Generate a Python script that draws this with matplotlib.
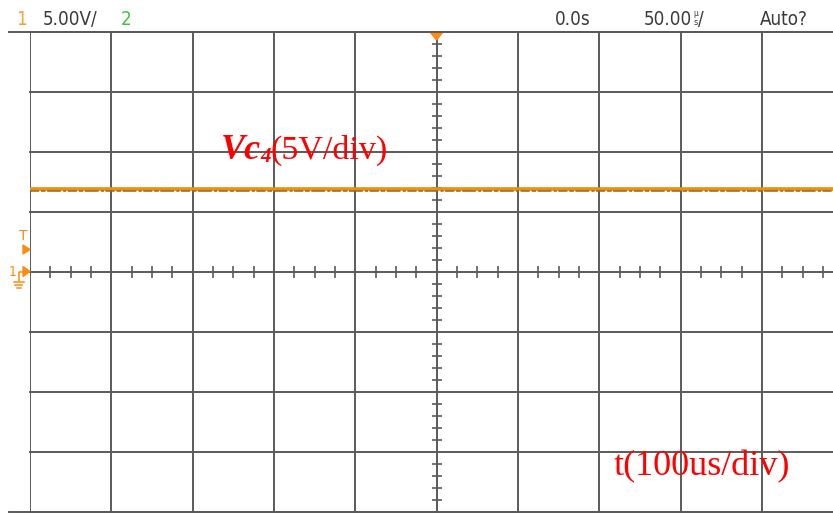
import matplotlib
matplotlib.use("Agg")
import matplotlib.pyplot as plt
from matplotlib.lines import Line2D
from matplotlib.patches import Polygon
from matplotlib import transforms
from matplotlib import font_manager
import numpy as np

# ---- data -------------------------------------------------------------
time_us = [-500.0, 500.0]          # sweep window, microseconds
vc4_volts = [6.9, 6.9]             # capacitor voltage Vc4 (flat DC level)
volts_per_div = 5.0
us_per_div = 100.0

header_channel1 = "1"
header_scale1 = "5.00V/"
header_channel2 = "2"
header_delay = "0.0s"
header_timebase = "50.00"
header_mode = "Auto?"

label_trace_main = "Vc"
label_trace_sub = "4"
label_trace_scale = "(5V/div)"
label_time = "t(100us/div)"

# ---- figure -----------------------------------------------------------
W, H = 833, 513
fig = plt.figure(figsize=(W / 100, H / 100), dpi=100)
fig.patch.set_facecolor("white")


def fx(x):
    return x / W


def fy(y):
    return 1 - y / H


div_px = 81.35
left_px, top_px, bot_px = 30, 32, 512
ax = fig.add_axes([fx(left_px), fy(bot_px), fx(W - left_px), (bot_px - top_px) / H])
ax.set_xlim(-5, -5 + (W - left_px) / div_px)
ax.set_ylim(-4, 4)
ax.axis("off")

grid_c = "#5a5a5a"
grid_lw = 1.4
for xv in range(-5, 5):
    ax.axvline(xv, color=grid_c, lw=grid_lw, zorder=1)
for yv in range(-4, 5):
    ax.axhline(yv, color=grid_c, lw=grid_lw, zorder=1, clip_on=False)

# top and bottom frame lines reach a little past the left edge
for yy in (top_px, bot_px - 0.5):
    fig.add_artist(Line2D([fx(9), 1], [fy(yy), fy(yy)], color=grid_c, lw=grid_lw))

# minor ticks on the centre axes: 4 per division across, 5 per division up
minor_x = [v for v in np.arange(-5, 5.01, 0.25) if abs(v - round(v)) > 1e-6]
ax.plot(minor_x, np.zeros(len(minor_x)), ls="none", marker="|", ms=8, mew=1.2,
        color=grid_c, zorder=2, clip_on=False)
minor_y = [v for v in np.arange(-4, 4.01, 0.2) if abs(v - round(v)) > 1e-6]
ax.plot(np.zeros(len(minor_y)), minor_y, ls="none", marker="_", ms=7, mew=1.2,
        color=grid_c, zorder=2)

# ---- trace ------------------------------------------------------------
xs = np.array(time_us) / us_per_div
ys = np.array(vc4_volts) / volts_per_div
ax.plot(xs, ys, color="#E8900F", lw=2.6, solid_capstyle="butt", zorder=4)
shift = transforms.offset_copy(ax.transData, fig=fig, x=0, y=-1.8, units="dots")
ax.plot(xs, ys, color="#9C6414", lw=1.1, ls=(0, (6, 1.2, 3, 1, 9, 1.5, 2, 1)),
        transform=shift, zorder=5)

# ---- header bar -------------------------------------------------------
available = {f.name for f in font_manager.fontManager.ttflist}
narrow = [n for n in ("Liberation Sans Narrow", "DejaVu Sans") if n in available]
hdr = dict(family=narrow, fontstretch="condensed", va="baseline")
base = 25
hs = 13.5
dark = "#3a3a3a"
fig.text(fx(16), fy(base), header_channel1, color="#F5A33A", fontsize=hs, **hdr)
fig.text(fx(43), fy(base), header_scale1, color=dark, fontsize=hs, **hdr)
fig.text(fx(121), fy(base), header_channel2, color="#3CC43C", fontsize=hs, **hdr)
fig.text(fx(555), fy(base), header_delay, color=dark, fontsize=hs, **hdr)
tb = fig.text(fx(644), fy(base), header_timebase, color=dark, fontsize=hs, **hdr)
# stacked unit glyph after the timebase value
mu = fig.text(0, 0, "µ", color=dark, fontsize=6, **hdr)
fig.canvas.draw()
r = fig.canvas.get_renderer()
tb_right = tb.get_window_extent(r).x1
mu.set_position(((tb_right + 1) / W, fy(base - 9)))
fig.text((tb_right + 1.5) / W, fy(base), "s", color=dark, fontsize=6.5, **hdr)
fig.text((tb_right + 6) / W, fy(base), "/", color=dark, fontsize=hs, **hdr)
fig.text(fx(760), fy(base), header_mode, color=dark, fontsize=hs, **hdr)

# trigger position marker (top centre)
orange = "#FF8A12"
fig.add_artist(Polygon([[fx(430), fy(32)], [fx(443), fy(32)], [fx(436.5), fy(40)]],
                       closed=True, color=orange, transform=fig.transFigure))

# ---- left side markers ------------------------------------------------
fig.text(fx(23.5), fy(240), "T", color=orange, fontsize=10, family=narrow,
         ha="center", va="baseline")
fig.add_artist(Polygon([[fx(23), fy(245)], [fx(23), fy(254)], [fx(30), fy(249.5)]],
                       closed=True, color=orange, transform=fig.transFigure))
fig.text(fx(12.5), fy(276), "1", color=orange, fontsize=10, family=narrow,
         fontstretch="condensed", ha="center", va="baseline")
fig.add_artist(Polygon([[fx(23), fy(266.5)], [fx(23), fy(276.5)], [fx(30), fy(271.5)]],
                       closed=True, color=orange, transform=fig.transFigure))
fig.add_artist(Line2D([fx(18.5), fx(18.5), fx(23)], [fy(281), fy(271.5), fy(271.5)],
                      color=orange, lw=1.1))
for i, half in enumerate((5, 3.5, 2)):
    yy = 282 + 3 * i
    fig.add_artist(Line2D([fx(18.5 - half), fx(18.5 + half)], [fy(yy), fy(yy)],
                          color=orange, lw=1.1))

# ---- annotations ------------------------------------------------------
serif = ["Liberation Serif", "DejaVu Serif"]
red = "#FF0000"
fig.text(fx(221), fy(159), label_trace_main, color=red, fontsize=26,
         family=serif, weight="bold", style="italic", va="baseline")
fig.text(fx(260), fy(162), label_trace_sub, color=red, fontsize=15,
         family=serif, weight="bold", style="italic", va="baseline")
fig.text(fx(270), fy(159), label_trace_scale, color=red, fontsize=24.5,
         family=serif, va="baseline")
fig.text(fx(614), fy(475), label_time, color=red, fontsize=26,
         family=serif, va="baseline")

fig.savefig("out.png", dpi=100)
